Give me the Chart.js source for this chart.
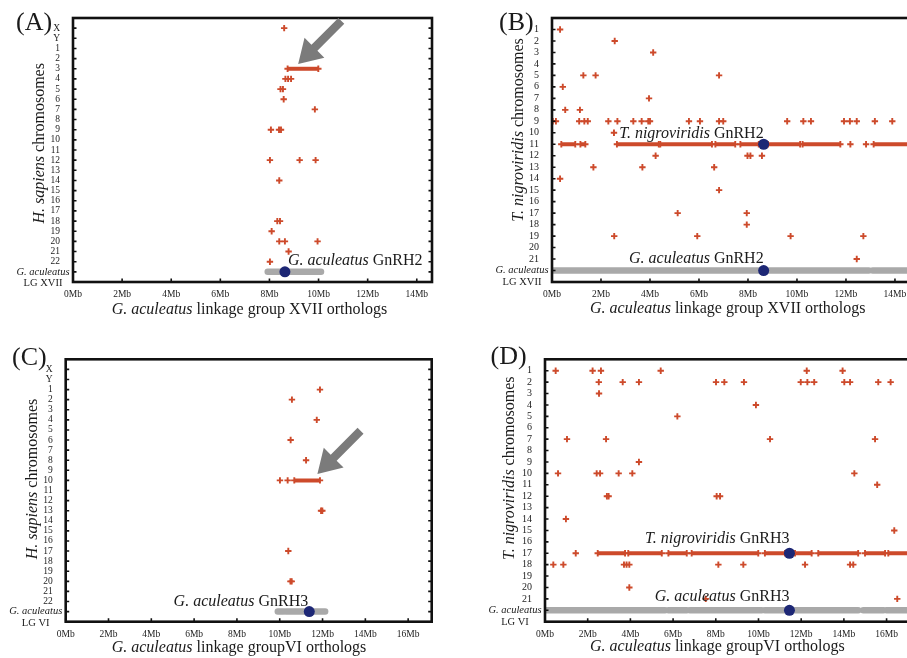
<!DOCTYPE html>
<html>
<head>
<meta charset="utf-8">
<script src="https://cdn.jsdelivr.net/npm/chart.js@4.4.1/dist/chart.umd.min.js"></script>
<style>
  html, body { margin: 0; padding: 0; background: #fff; width: 907px; height: 658px; overflow: hidden; position: relative; }
  canvas { position: absolute; }
</style>
</head>
<body>
<canvas id="panelA" width="452" height="330" style="left:0px;top:0px"></canvas>
<canvas id="panelB" width="480" height="330" style="left:453px;top:0px"></canvas>
<canvas id="panelC" width="452" height="328" style="left:0px;top:330px"></canvas>
<canvas id="panelD" width="480" height="328" style="left:453px;top:330px"></canvas>
<script>
// tick labels
const humanChroms = ["X", "Y", "1", "2", "3", "4", "5", "6", "7", "8", "9", "10", "11",
  "12", "13", "14", "15", "16", "17", "18", "19", "20", "21", "22"];
const tetraodonChroms = ["1", "2", "3", "4", "5", "6", "7", "8", "9", "10", "11", "12",
  "13", "14", "15", "16", "17", "18", "19", "20", "21"];
const mbTicksXVII = [0, 2, 4, 6, 8, 10, 12, 14];
const mbTicksVI = [0, 2, 4, 6, 8, 10, 12, 14, 16];

// (A) human orthologs of stickleback LG XVII genes  [Mb, chromosome]
const hitsA = [[8.6, "X"], [8.65, "4"], [8.76, "4"], [8.88, "4"], [8.45, "5"], [8.55, "5"],
  [8.58, "6"], [9.85, "7"], [8.06, "9"], [8.39, "9"], [8.47, "9"], [8.02, "12"], [9.23, "12"],
  [9.88, "12"], [8.4, "14"], [8.32, "18"], [8.43, "18"], [8.09, "19"], [8.4, "20"], [8.63, "20"],
  [9.96, "20"], [8.78, "21"], [8.02, "22"]];
const denseA = [[8.74, 9.99, "3"]];
const lgA = [[7.93, 10.1]];
const gnrh2A = 8.63;

// (B) Tetraodon orthologs of LG XVII genes
const hitsB = [[0.33, "1"], [2.56, "2"], [4.13, "3"], [1.28, "5"], [1.78, "5"], [6.82, "5"],
  [0.44, "6"], [3.96, "7"], [0.54, "8"], [1.14, "8"],
  [0.03, "9"], [0.16, "9"], [1.11, "9"], [1.32, "9"], [1.46, "9"], [2.3, "9"], [2.67, "9"],
  [3.32, "9"], [3.66, "9"], [3.93, "9"], [4.0, "9"], [5.59, "9"], [6.04, "9"], [6.82, "9"],
  [6.99, "9"], [9.6, "9"], [10.26, "9"], [10.57, "9"], [11.92, "9"], [12.16, "9"], [12.44, "9"],
  [13.18, "9"], [13.89, "9"], [2.53, "10"], [12.18, "11"], [12.82, "11"],
  [4.23, "12"], [7.98, "12"], [8.1, "12"], [8.57, "12"], [1.69, "13"], [3.69, "13"], [6.62, "13"],
  [0.33, "14"], [6.82, "15"], [5.13, "17"], [7.95, "17"], [7.95, "18"], [2.54, "19"], [5.93, "19"],
  [9.74, "19"], [12.71, "19"], [12.44, "21"]];
const denseB = [[0.38, 0.95, "11"], [1.16, 1.36, "11"], [2.65, 4.36, "11"], [4.42, 6.53, "11"],
  [6.67, 7.48, "11"], [7.69, 8.44, "11"], [8.82, 10.13, "11"], [10.23, 11.77, "11"], [13.13, 14.7, "11"]];
const lgB = [[0, 12.93], [13.09, 14.7]];
const gnrh2B = 8.64;

// (C) human orthologs of stickleback LG VI genes
const hitsC = [[11.88, "1"], [10.57, "2"], [11.73, "4"], [10.51, "6"], [11.23, "8"], [10.01, "10"],
  [10.37, "10"], [11.93, "13"], [11.99, "13"], [10.4, "17"], [10.5, "20"], [10.56, "20"]];
const denseC = [[10.68, 11.88, "10"]];
const lgC = [[9.91, 10.17], [10.3, 12.12]];
const gnrh3C = 11.38;

// (D) Tetraodon orthologs of LG VI genes
const hitsD = [[0.5, "1"], [2.23, "1"], [2.62, "1"], [5.42, "1"], [12.26, "1"], [13.94, "1"],
  [2.52, "2"], [3.64, "2"], [4.4, "2"], [8.01, "2"], [8.4, "2"], [9.32, "2"], [11.98, "2"],
  [12.29, "2"], [12.61, "2"], [14.02, "2"], [14.29, "2"], [15.61, "2"], [16.19, "2"],
  [2.53, "3"], [9.88, "4"], [6.2, "5"], [1.03, "7"], [2.86, "7"], [10.54, "7"], [15.46, "7"],
  [4.4, "9"], [0.61, "10"], [2.42, "10"], [2.58, "10"], [3.45, "10"], [4.09, "10"], [14.49, "10"],
  [15.56, "11"], [2.9, "12"], [2.98, "12"], [8.04, "12"], [8.2, "12"], [0.98, "14"], [16.36, "15"],
  [1.44, "17"], [0.39, "18"], [0.86, "18"], [3.7, "18"], [3.82, "18"], [3.95, "18"], [8.12, "18"],
  [9.29, "18"], [12.18, "18"], [14.29, "18"], [14.44, "18"], [3.95, "20"], [7.53, "21"], [16.5, "21"]];
const denseD = [[2.47, 3.75, "17"], [3.9, 5.47, "17"], [5.78, 6.64, "17"], [6.87, 9.99, "17"],
  [10.3, 11.24, "17"], [11.71, 12.49, "17"], [12.8, 14.67, "17"], [14.99, 15.93, "17"], [16.08, 17.2, "17"]];
const lgD = [[0, 5.62], [5.78, 6.64], [6.79, 10.15], [10.3, 14.67], [14.91, 15.85], [16.0, 17.2]];
const gnrh3D = 11.45;

const FONT = "'Liberation Serif', 'Times New Roman', serif";
const RED = "#cd4a2b";
const GREY = "#a9a9a9";
const NAVY = "#1d2775";

function drawRich(ctx, parts, x, y, align, size) {
  const fonts = parts.map(p => (p[1] ? "italic " : "") + size + "px " + FONT);
  let total = 0;
  const widths = parts.map((p, i) => {
    ctx.font = fonts[i];
    const w = ctx.measureText(p[0]).width;
    total += w;
    return w;
  });
  let cx = align === "left" ? x : align === "right" ? x - total : x - total / 2;
  ctx.textAlign = "left";
  parts.forEach((p, i) => {
    ctx.font = fonts[i];
    ctx.fillText(p[0], cx, y);
    cx += widths[i];
  });
}

function drawArrow(ctx, tx, ty) {
  // grey block arrow pointing down-left to (tx, ty)
  const len = 61, head = 23, halfHead = 14, halfShaft = 4.2;
  const ux = Math.SQRT1_2, uy = -Math.SQRT1_2;   // from tip towards tail
  const px = Math.SQRT1_2, py = Math.SQRT1_2;     // perpendicular
  const bx = tx + ux * head, by = ty + uy * head;
  const ex = tx + ux * len, ey = ty + uy * len;
  ctx.fillStyle = "#7b7b7b";
  ctx.beginPath();
  ctx.moveTo(tx, ty);
  ctx.lineTo(bx + px * halfHead, by + py * halfHead);
  ctx.lineTo(bx + px * halfShaft, by + py * halfShaft);
  ctx.lineTo(ex + px * halfShaft, ey + py * halfShaft);
  ctx.lineTo(ex - px * halfShaft, ey - py * halfShaft);
  ctx.lineTo(bx - px * halfShaft, by - py * halfShaft);
  ctx.lineTo(bx - px * halfHead, by - py * halfHead);
  ctx.closePath();
  ctx.fill();
}

function makePanel(o) {
  const rowOf = c => c === "LG" ? o.rows.length : o.rows.indexOf(c);
  const lgRow = o.rows.length;
  const datasets = [];
  datasets.push({
    data: o.genes.map(g => ({ x: g[0], y: rowOf(g[1]) })),
    pointStyle: "circle", pointRadius: 5.5, backgroundColor: NAVY, borderWidth: 0, order: 0
  });
  datasets.push({
    data: o.hits.map(h => ({ x: h[0], y: rowOf(h[1]) })),
    pointStyle: "cross", pointRadius: 3.2, borderColor: RED, borderWidth: 1.9, order: 1
  });
  o.dense.forEach(d => datasets.push({
    data: [{ x: d[0], y: rowOf(d[2]) }, { x: d[1], y: rowOf(d[2]) }],
    showLine: true, borderColor: RED, borderWidth: 4, pointStyle: "cross",
    pointRadius: 3.2, pointBorderWidth: 1.9, order: 1
  }));
  o.lg.forEach(s => datasets.push({
    data: [{ x: s[0], y: lgRow }, { x: s[1], y: lgRow }],
    showLine: true, borderColor: GREY, borderWidth: 6.5, borderCapStyle: "round", pointRadius: 0, order: 2
  }));

  const decor = {
    id: "decor",
    afterDraw(chart) {
      const { ctx, chartArea: a, scales: { x, y } } = chart;
      ctx.save();
      // frame and inside ticks
      ctx.strokeStyle = "#111";
      ctx.lineWidth = 1.6;
      ctx.beginPath();
      y.ticks.forEach(t => {
        const yy = y.getPixelForValue(t.value);
        ctx.moveTo(a.left, yy); ctx.lineTo(a.left + 3.5, yy);
        ctx.moveTo(a.right, yy); ctx.lineTo(a.right - 3.5, yy);
      });
      x.ticks.forEach(t => {
        const xx = x.getPixelForValue(t.value);
        ctx.moveTo(xx, a.bottom); ctx.lineTo(xx, a.bottom - 3.5);
      });
      ctx.stroke();
      ctx.lineWidth = 2.6;
      ctx.strokeRect(a.left, a.top, a.right - a.left, a.bottom - a.top);

      ctx.fillStyle = "#1a1a1a";
      ctx.textBaseline = "alphabetic";
      // gene labels
      o.labels.forEach(l => {
        const lx = x.getPixelForValue(l.x) + l.dx;
        const ly = y.getPixelForValue(rowOf(l.row)) + l.dy;
        drawRich(ctx, l.parts, lx, ly, l.align, 16);
      });
      // arrows
      o.arrows.forEach(p => drawArrow(ctx, x.getPixelForValue(p[0]), y.getPixelForValue(p[1])));

      ctx.fillStyle = "#1a1a1a";
      // LG row label
      const lgY = y.getPixelForValue(lgRow);
      ctx.textBaseline = "middle";
      ctx.textAlign = "center";
      ctx.font = "italic 10.5px " + FONT;
      ctx.fillText("G. aculeatus", a.left - 30, lgY);
      ctx.font = "10.5px " + FONT;
      ctx.fillText(o.lgName, a.left - 30, lgY + 11.5);
      // panel letter
      ctx.textBaseline = "alphabetic";
      ctx.textAlign = "left";
      ctx.font = "26px " + FONT;
      ctx.fillText(o.letter[0], o.letter[1], o.letter[2]);
      // axis titles
      drawRich(ctx, o.xTitle, o.xTitlePos[0], o.xTitlePos[1], "left", 16);
      ctx.translate(o.yTitlePos[0], o.yTitlePos[1]);
      ctx.rotate(-Math.PI / 2);
      drawRich(ctx, o.yTitle, 0, 0, "center", 16);
      ctx.restore();
    }
  };

  new Chart(document.getElementById(o.canvas), {
    type: "scatter",
    data: { datasets },
    options: {
      responsive: false,
      animation: false,
      events: [],
      layout: { padding: { left: 0, top: o.area.top, right: o.area.right, bottom: 0 } },
      plugins: { legend: { display: false }, tooltip: { enabled: false } },
      scales: {
        x: {
          type: "linear", min: 0, max: o.xMax,
          afterBuildTicks: s => { s.ticks = o.xTicks.map(v => ({ value: v })); },
          afterFit: s => { s.height = o.area.xh; },
          grid: { display: false }, border: { display: false },
          ticks: {
            autoSkip: false, maxRotation: 0, padding: -1, color: "#222",
            font: { family: FONT, size: 9.5 }, callback: v => v + "Mb"
          }
        },
        y: {
          type: "linear", reverse: true, min: -1, max: o.rows.length + 1,
          afterBuildTicks: s => { s.ticks = o.rows.concat(["LG"]).map((_, i) => ({ value: i })); },
          afterFit: s => { s.width = o.area.yw; },
          grid: { display: false }, border: { display: false },
          ticks: {
            autoSkip: false, padding: 5, color: "#222",
            font: { family: FONT, size: o.tickSize }, callback: v => o.rows[v] || ""
          }
        }
      }
    },
    plugins: [decor]
  });
}

makePanel({
  canvas: "panelA", rows: humanChroms, xTicks: mbTicksXVII, xMax: 14.62, tickSize: 9.5,
  hits: hitsA, dense: denseA, lg: lgA, genes: [[gnrh2A, "LG"]], lgName: "LG XVII",
  area: { top: 18, right: 20, yw: 73, xh: 48 },
  labels: [{ x: gnrh2A, row: "LG", dx: 3, dy: -7, align: "left", parts: [["G. aculeatus", true], [" GnRH2", false]] }],
  arrows: [[9.17, 3.53]],
  letter: ["(A)", 16, 30],
  xTitle: [["G. aculeatus", true], [" linkage group XVII orthologs", false]], xTitlePos: [111.7, 314],
  yTitle: [["H. sapiens", true], [" chromosomes", false]], yTitlePos: [43.5, 143.3]
});

makePanel({
  canvas: "panelB", rows: tetraodonChroms, xTicks: mbTicksXVII, xMax: 14.72, tickSize: 10,
  hits: hitsB, dense: denseB, lg: lgB, genes: [[gnrh2B, "11"], [gnrh2B, "LG"]], lgName: "LG XVII",
  area: { top: 18, right: 20.4, yw: 99, xh: 48 },
  labels: [
    { x: gnrh2B, row: "11", dx: 0, dy: -6, align: "right", parts: [["T. nigroviridis", true], [" GnRH2", false]] },
    { x: gnrh2B, row: "LG", dx: 0, dy: -8, align: "right", parts: [["G. aculeatus", true], [" GnRH2", false]] }
  ],
  arrows: [],
  letter: ["(B)", 46, 30],
  xTitle: [["G. aculeatus", true], [" linkage group XVII orthologs", false]], xTitlePos: [137, 313.3],
  yTitle: [["T. nigroviridis", true], [" chromosomes", false]], yTitlePos: [69.7, 130]
});

makePanel({
  canvas: "panelC", rows: humanChroms, xTicks: mbTicksVI, xMax: 17.1, tickSize: 9.5,
  hits: hitsC, dense: denseC, lg: lgC, genes: [[gnrh3C, "LG"]], lgName: "LG VI",
  area: { top: 29.3, right: 20.3, yw: 65.7, xh: 36.3 },
  labels: [{ x: gnrh3C, row: "LG", dx: -1, dy: -6, align: "right", parts: [["G. aculeatus", true], [" GnRH3", false]] }],
  arrows: [[11.76, 10.36]],
  letter: ["(C)", 12, 35],
  xTitle: [["G. aculeatus", true], [" linkage groupVI orthologs", false]], xTitlePos: [111.7, 321.7],
  yTitle: [["H. sapiens", true], [" chromosomes", false]], yTitlePos: [37.3, 149]
});

makePanel({
  canvas: "panelD", rows: tetraodonChroms, xTicks: mbTicksVI, xMax: 17.2, tickSize: 10,
  hits: hitsD, dense: denseD, lg: lgD, genes: [[gnrh3D, "17"], [gnrh3D, "LG"]], lgName: "LG VI",
  area: { top: 29.3, right: 20.8, yw: 92, xh: 36.3 },
  labels: [
    { x: gnrh3D, row: "17", dx: 0, dy: -10, align: "right", parts: [["T. nigroviridis", true], [" GnRH3", false]] },
    { x: gnrh3D, row: "LG", dx: 0, dy: -9, align: "right", parts: [["G. aculeatus", true], [" GnRH3", false]] }
  ],
  arrows: [],
  letter: ["(D)", 37.5, 34],
  xTitle: [["G. aculeatus", true], [" linkage groupVI orthologs", false]], xTitlePos: [137, 321],
  yTitle: [["T. nigroviridis", true], [" chromosomes", false]], yTitlePos: [61, 138.3]
});
</script>
</body>
</html>
